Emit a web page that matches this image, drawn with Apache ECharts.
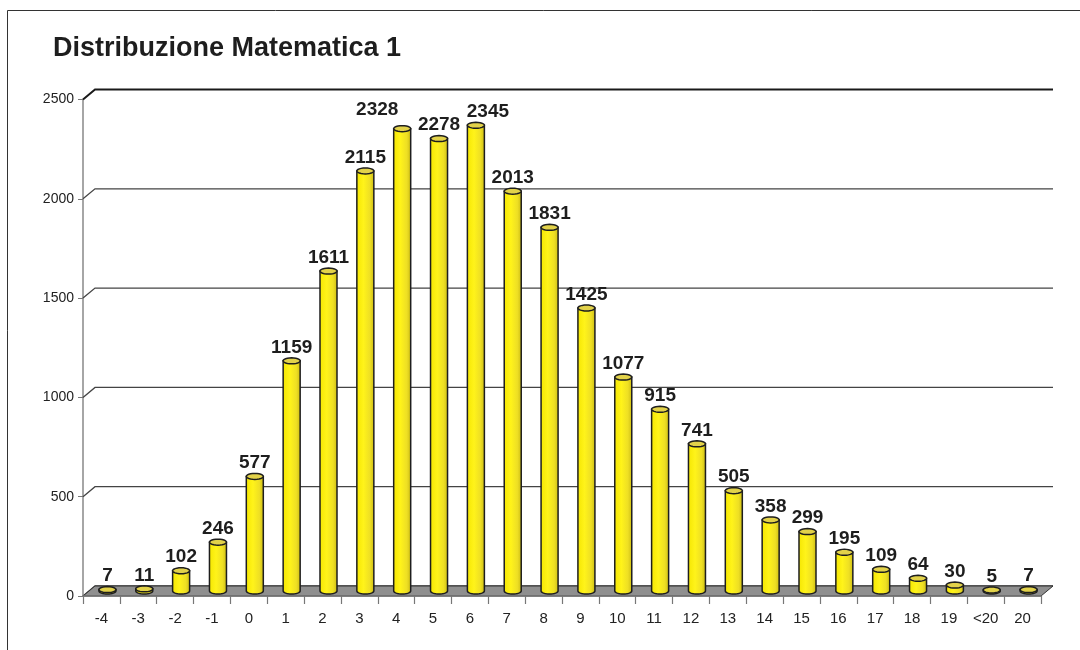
<!DOCTYPE html>
<html>
<head>
<meta charset="utf-8">
<title>Distribuzione Matematica 1</title>
<script src="https://cdn.jsdelivr.net/npm/echarts@6/dist/echarts.min.js"></script>
<style>
  html, body { margin: 0; padding: 0; background: #fff; }
  #chart { width: 1080px; height: 650px; }
</style>
</head>
<body>
<div id="chart"></div>
<script>
// categorie (voti) e frequenze
var categories = ['-4', '-3', '-2', '-1', '0', '1', '2', '3', '4', '5', '6', '7', '8', '9',
  '10', '11', '12', '13', '14', '15', '16', '17', '18', '19', '<20', '20'];
var counts = [7, 11, 102, 246, 577, 1159, 1611, 2115, 2328, 2278, 2345, 2013, 1831, 1425,
  1077, 915, 741, 505, 358, 299, 195, 109, 64, 30, 5, 7];
var yTicks = [0, 500, 1000, 1500, 2000, 2500];

// finto effetto 3D: spostamento della parete di fondo
var DX = 12, DY = -10;
var FONT = 'Arial, "Liberation Sans", sans-serif';
// etichette spostate come nell'originale (indice categoria -> [dx, dy])
var labelNudge = { 8: [-25, -5], 10: [12, 0] };

var chart = echarts.init(document.getElementById('chart'));

function ellipsePts(cx, cy, rx, ry, a0, a1, steps) {
  var pts = [];
  for (var k = 0; k <= steps; k++) {
    var a = a0 + (a1 - a0) * k / steps;
    pts.push([cx + rx * Math.cos(a), cy + ry * Math.sin(a)]);
  }
  return pts;
}

// linee della griglia sulla parete di fondo
function renderGrid(params, api) {
  var cs = params.coordSys;
  var val = api.value(0);
  var y = api.coord([0, val])[1];
  var x0 = cs.x, x1 = cs.x + cs.width;
  var top = val === yTicks[yTicks.length - 1];
  return {
    type: 'polyline',
    shape: { points: [[x0, y], [x0 + DX, y + DY], [x1 + DX, y + DY]] },
    style: { stroke: top ? '#1a1a1a' : '#444', lineWidth: top ? 2 : 1.3, fill: null }
  };
}

// pavimento grigio
function renderFloor(params, api) {
  var cs = params.coordSys;
  var y = api.coord([0, 0])[1];
  var x0 = cs.x, x1 = cs.x + cs.width;
  return {
    type: 'polygon',
    shape: { points: [[x0, y], [x1, y], [x1 + DX, y + DY], [x0 + DX, y + DY]] },
    style: { fill: '#8f8f8f', stroke: '#333', lineWidth: 1 }
  };
}

// cilindri
function renderBar(params, api) {
  var i = api.value(0), v = api.value(1);
  var base = api.coord([i, 0]);
  var tp = api.coord([i, v]);
  var cx = base[0] + DX / 2;
  var by = base[1] + DY / 2;
  var ty = tp[1] + DY / 2;
  var r = 8.5, ry = 3;
  var body = [[cx - r, ty], [cx - r, by]]
    .concat(ellipsePts(cx, by, r, ry, Math.PI, 0, 16))
    .concat([[cx + r, ty]]);
  var nudge = labelNudge[i] || [0, 0];
  return {
    type: 'group',
    children: [
      {
        type: 'polygon',
        shape: { points: body },
        style: {
          fill: new echarts.graphic.LinearGradient(0, 0, 1, 0, [
            { offset: 0, color: '#F4E600' },
            { offset: 0.4, color: '#FFF31A' },
            { offset: 0.75, color: '#EEDF24' },
            { offset: 1, color: '#C9B912' }
          ]),
          stroke: '#1e1e1e', lineWidth: 1.5
        }
      },
      {
        type: 'polygon',
        shape: { points: ellipsePts(cx, ty, r, ry, 0, Math.PI * 2, 24) },
        style: { fill: '#E2D24A', stroke: '#1e1e1e', lineWidth: 1.5 }
      },
      {
        type: 'text',
        style: {
          text: String(v),
          x: cx + nudge[0],
          y: ty - ry - 1 + nudge[1],
          align: 'center', verticalAlign: 'bottom',
          textAlign: 'center', textVerticalAlign: 'bottom',
          font: 'bold 19px ' + FONT,
          fill: '#1e1e1e'
        }
      }
    ]
  };
}

var option = {
  animation: false,
  backgroundColor: '#fff',
  title: {
    text: 'Distribuzione Matematica 1',
    left: 48,
    top: 30,
    textStyle: { fontFamily: FONT, fontSize: 27, fontWeight: 'bold', color: '#1e1e1e' }
  },
  graphic: [
    { type: 'line', shape: { x1: 7.5, y1: 10.5, x2: 1080, y2: 10.5 }, style: { stroke: '#333', lineWidth: 1 } },
    { type: 'line', shape: { x1: 7.5, y1: 10.5, x2: 7.5, y2: 650 }, style: { stroke: '#333', lineWidth: 1 } }
  ],
  grid: { left: 83, right: 39, top: 99.5, bottom: 54 },
  xAxis: {
    type: 'category',
    data: categories,
    z: 5,
    axisLine: { lineStyle: { color: '#777', width: 1.5 } },
    axisTick: { show: true, alignWithLabel: false, length: 8, lineStyle: { color: '#777', width: 1.2 } },
    axisLabel: { fontFamily: FONT, fontSize: 15, color: '#222', margin: 15, interval: 0 }
  },
  yAxis: {
    type: 'value',
    min: 0,
    max: 2500,
    interval: 500,
    axisLine: { show: true, lineStyle: { color: '#888', width: 1.5 } },
    axisTick: { show: true, length: 5, lineStyle: { color: '#777' } },
    splitLine: { show: false },
    axisLabel: {
      fontFamily: FONT, fontSize: 14, color: '#222', margin: 9,
      formatter: function (v) { return String(v); }
    }
  },
  series: [
    { type: 'custom', z: 1, renderItem: renderGrid, data: yTicks.map(function (t) { return [t]; }), silent: true },
    { type: 'custom', z: 2, renderItem: renderFloor, data: [[0]], silent: true },
    {
      type: 'custom', z: 3, renderItem: renderBar,
      encode: { x: 0, y: 1 },
      data: counts.map(function (c, i) { return [i, c]; })
    }
  ]
};

chart.setOption(option);
</script>
</body>
</html>
